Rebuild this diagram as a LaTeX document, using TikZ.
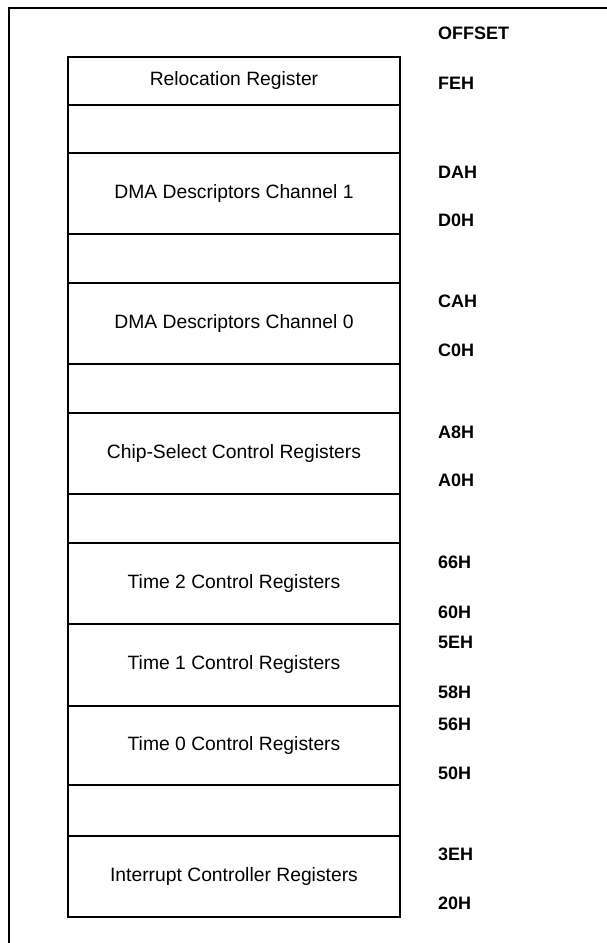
\documentclass[tikz,border=0pt]{standalone}
\usepackage{fontspec}
\setmainfont{Liberation Sans}
\begin{document}
\begin{tikzpicture}[x=1pt,y=-1pt,
  regbox/.style={draw, line width=2.2pt, rectangle, minimum width=332pt, inner sep=0pt,
    font=\fontsize{19.3}{22}\selectfont},
  offlabel/.style={anchor=west, inner sep=0pt, font=\bfseries\fontsize{18}{22}\selectfont},
  frameline/.style={line width=2.2pt}]
\useasboundingbox (0,0) rectangle (607,943);
\draw[frameline] (607,8) -- (9,8) -- (9,943);
% register boxes
\node[regbox, minimum height=48pt] (reloc)  at (234,81)    {Relocation Register};
\node[regbox, minimum height=48pt] (gap1)   at (234,129)   {};
\node[regbox, minimum height=81pt] (dma1)   at (234,193.5) {DMA Descriptors Channel 1};
\node[regbox, minimum height=49pt] (gap2)   at (234,258.5) {};
\node[regbox, minimum height=81pt] (dma0)   at (234,323.5) {DMA Descriptors Channel 0};
\node[regbox, minimum height=49pt] (gap3)   at (234,388.5) {};
\node[regbox, minimum height=81pt] (cs)     at (234,453.5) {Chip-Select Control Registers};
\node[regbox, minimum height=49pt] (gap4)   at (234,518.5) {};
\node[regbox, minimum height=81pt] (t2)     at (234,583.5) {Time 2 Control Registers};
\node[regbox, minimum height=82pt] (t1)     at (234,665)   {Time 1 Control Registers};
\node[regbox, minimum height=79pt] (t0)     at (234,745.5) {Time 0 Control Registers};
\node[regbox, minimum height=51pt] (gap5)   at (234,810.5) {};
\node[regbox, minimum height=81pt] (intr)   at (234,876.5) {Interrupt Controller Registers};
% offsets
\node[offlabel] (hdr)  at (438,33)  {OFFSET};
\node[offlabel] (feh)  at (438,83)  {FEH};
\node[offlabel] (dah)  at (438,172) {DAH};
\node[offlabel] (d0h)  at (438,220) {D0H};
\node[offlabel] (cah)  at (438,301) {CAH};
\node[offlabel] (c0h)  at (438,350) {C0H};
\node[offlabel] (a8h)  at (438,432) {A8H};
\node[offlabel] (a0h)  at (438,480) {A0H};
\node[offlabel] (h66)  at (438,562) {66H};
\node[offlabel] (h60)  at (438,612) {60H};
\node[offlabel] (h5e)  at (438,642) {5EH};
\node[offlabel] (h58)  at (438,692) {58H};
\node[offlabel] (h56)  at (438,724) {56H};
\node[offlabel] (h50)  at (438,773) {50H};
\node[offlabel] (h3e)  at (438,854) {3EH};
\node[offlabel] (h20)  at (438,903) {20H};
\end{tikzpicture}
\end{document}
